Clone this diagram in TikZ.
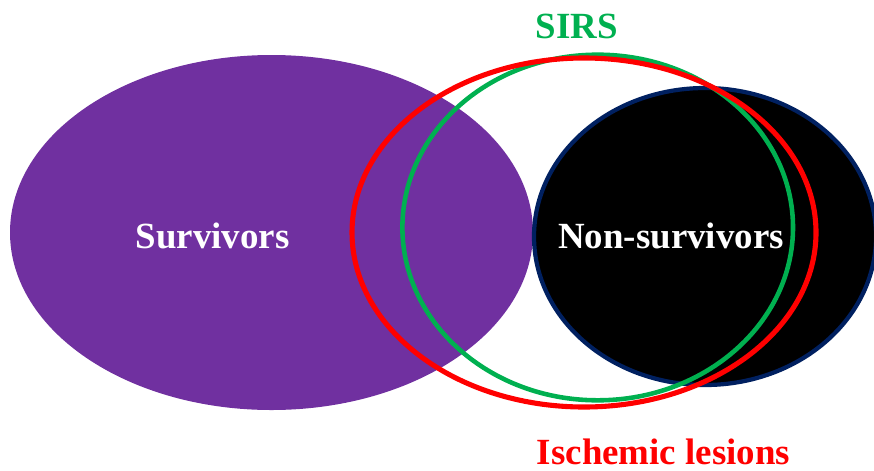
\documentclass[tikz,border=0pt]{standalone}
\usepackage{fontspec}
\setmainfont{Liberation Serif}
\usepackage{tikz}
\definecolor{survcol}{HTML}{7030A0}
\definecolor{navy}{HTML}{002060}
\definecolor{sirscol}{HTML}{00B050}
\definecolor{lesioncol}{HTML}{FF0000}

\begin{document}
\begin{tikzpicture}[
  x=0.02cm, y=-0.02cm,
  font=\fontsize{21}{25}\selectfont\bfseries,
  label/.style={anchor=base, inner sep=0pt},
  ring/.style={line width=2.6pt},
]
\useasboundingbox (0,0) rectangle (874,470);
\begin{scope}
\clip (0,0) rectangle (874,470);
\fill[survcol] (271.5,232.5) ellipse [x radius=261.5, y radius=177.5];
\filldraw[fill=black, draw=navy, line width=2.4pt] (705,236.5) ellipse [x radius=171, y radius=148.5];
\draw[ring, sirscol] (597.7,227.5) ellipse [x radius=195.3, y radius=172.8];
\draw[ring, lesioncol, line width=2.9pt] (584,232.5) ellipse [x radius=232, y radius=174.5];
\end{scope}
\node[label, white] (surv) at (212.5,248) {Survivors};
\node[label, white] (nonsurv) at (671,248) {Non-survivors};
\node[label, sirscol] (sirs) at (577,38.5) {SIRS};
\node[label, lesioncol] (lesion) at (663.5,464.5) {Ischemic lesions};
\end{tikzpicture}
\end{document}
